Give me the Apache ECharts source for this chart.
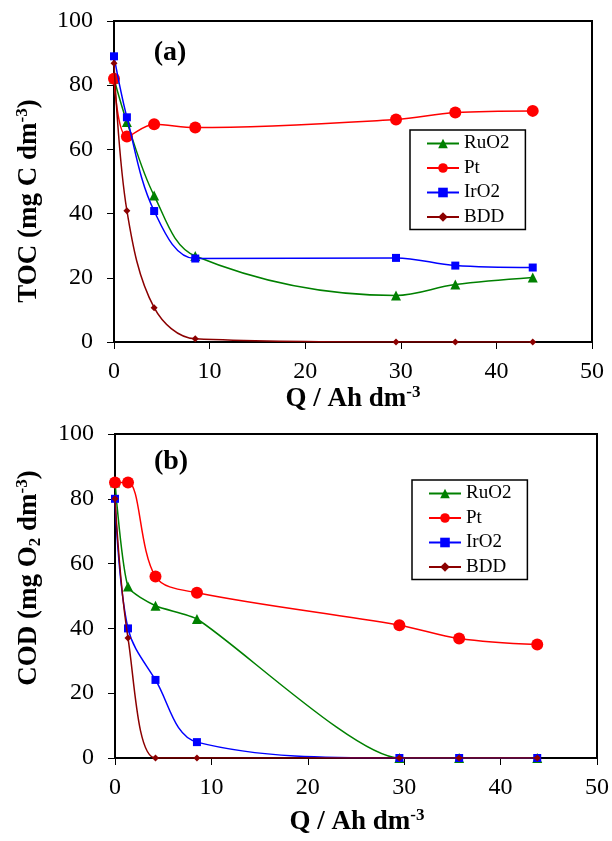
<!DOCTYPE html>
<html><head><meta charset="utf-8">
<script src="https://cdn.jsdelivr.net/npm/echarts@6/dist/echarts.min.js"></script>
<style>html,body{margin:0;padding:0;background:#fff}#c{width:612px;height:841px}</style>
</head><body><div id="c"></div>
<script>
// ---- data ----
const charge = [0, 1.35, 4.2, 8.5, 29.5, 35.7, 43.8];           // Q / Ah dm-3
const seriesNames = ['RuO2', 'Pt', 'IrO2', 'BDD'];
const tocRuO2 = [82, 68.5, 45.6, 26.8, 14.5, 17.9, 20.1];
const tocPt   = [82, 64, 67.8, 66.8, 69.3, 71.5, 72];
const tocIrO2 = [89, 70, 40.8, 26, 26.2, 23.8, 23.2];
const tocBDD  = [86.8, 40.9, 10.7, 1, 0, 0, 0];
const codRuO2 = [85, 52.9, 47, 42.9, 0, 0, 0];
const codPt   = [85, 85, 56, 51, 41, 36.9, 35];
const codIrO2 = [80, 40, 24.1, 4.9, 0, 0, 0];
const codBDD  = [80, 37, 0, 0, 0, 0, 0];
const xMin = 0, xMax = 50, xStep = 10;
const yMin = 0, yMax = 100, yStep = 20;

// ---- styles ----
const FONT = '"Liberation Serif", "Times New Roman", serif';
const look = {
  RuO2: { color: '#008000', symbol: 'triangle', size: 10 },
  Pt:   { color: '#ff0000', symbol: 'circle', size: 12 },
  IrO2: { color: '#0000ff', symbol: 'rect', size: 8 },
  BDD:  { color: '#8b0000', symbol: 'diamond', size: 7 }
};
const panels = [
  { vals: [tocRuO2, tocPt, tocIrO2, tocBDD], smooth: [0.35, 0.35, 0.35, 0.35] },
  { vals: [codRuO2, codPt, codIrO2, codBDD], smooth: [0.2, 0.35, 0.35, 0.35] }
];

const series = [];
panels.forEach((p, g) => {
  seriesNames.forEach((n, k) => {
    const s = look[n];
    series.push({
      name: n, type: 'line', xAxisIndex: g, yAxisIndex: g,
      data: charge.map((q, i) => [q, p.vals[k][i]]),
      smooth: p.smooth[k],
      symbol: s.symbol, symbolSize: s.size,
      lineStyle: { color: s.color, width: 1.5 },
      itemStyle: { color: s.color },
      z: 2 + k
    });
  });
});

function xAxis(g) {
  return {
    type: 'value', gridIndex: g, min: xMin, max: xMax, interval: xStep,
    axisLine: { show: true, onZero: false, lineStyle: { color: '#000', width: 2 } },
    axisTick: { show: true, inside: false, length: 7, lineStyle: { color: '#000', width: 1 } },
    axisLabel: { color: '#000', fontFamily: FONT, fontSize: 24, margin: 18 },
    splitLine: { show: false }
  };
}
function yAxis(g) {
  return {
    type: 'value', gridIndex: g, min: yMin, max: yMax, interval: yStep,
    axisLine: { show: true, onZero: false, lineStyle: { color: '#000', width: 2 } },
    axisTick: { show: true, inside: false, length: 7, lineStyle: { color: '#000', width: 1 } },
    axisLabel: { color: '#000', fontFamily: FONT, fontSize: 24, margin: 21 },
    splitLine: { show: false }
  };
}
function legend(left, top) {
  return {
    orient: 'vertical', left: left, top: top, data: seriesNames,
    itemWidth: 32, itemHeight: 12, itemGap: 5.5,
    padding: [4, 16, 3, 16],
    borderColor: '#000', borderWidth: 1.5, backgroundColor: '#fff',
    textStyle: { color: '#000', fontFamily: FONT, fontSize: 19, lineHeight: 19 },
    selectedMode: false
  };
}
const big = 'bold 27px ' + FONT;
const sup = 'bold 17px ' + FONT;
const rich = {
  b: { font: big, lineHeight: 30 },
  s: { font: sup, verticalAlign: 'top', lineHeight: 30, padding: [0, 0, 10, 0] },
  d: { font: sup, verticalAlign: 'bottom', lineHeight: 30, padding: [8, 0, 0, 0] }
};
function txt(text, x, y, rot) {
  return {
    type: 'text', x: x, y: y, rotation: rot || 0,
    style: { text: text, rich: rich, fill: '#000', align: 'center', verticalAlign: 'middle' }
  };
}

const chart = echarts.init(document.getElementById('c'), null, { renderer: 'canvas' });
chart.setOption({
  animation: false,
  backgroundColor: '#fff',
  grid: [
    { left: 114, top: 21, right: 20, bottom: 499, show: true, borderColor: '#000', borderWidth: 2, containLabel: false },
    { left: 115, top: 434, right: 13, bottom: 83, show: true, borderColor: '#000', borderWidth: 2, containLabel: false }
  ],
  xAxis: [xAxis(0), xAxis(1)],
  yAxis: [yAxis(0), yAxis(1)],
  legend: [legend(410, 130), legend(412, 480)],
  series: series,
  graphic: [
    txt('{b|Q / Ah dm}{s|-3}', 353, 399),
    txt('{b|Q / Ah dm}{s|-3}', 357, 822),
    txt('{b|TOC (mg C dm}{s|-3}{b|)}', 29, 201, Math.PI / 2),
    txt('{b|COD (mg O}{d|2}{b| dm}{s|-3}{b|)}', 29, 578, Math.PI / 2),
    { type: 'text', x: 170, y: 53, style: { text: '(a)', font: 'bold 28px ' + FONT, fill: '#000', align: 'center', verticalAlign: 'middle' } },
    { type: 'text', x: 171, y: 462, style: { text: '(b)', font: 'bold 28px ' + FONT, fill: '#000', align: 'center', verticalAlign: 'middle' } }
  ]
});
</script></body></html>
